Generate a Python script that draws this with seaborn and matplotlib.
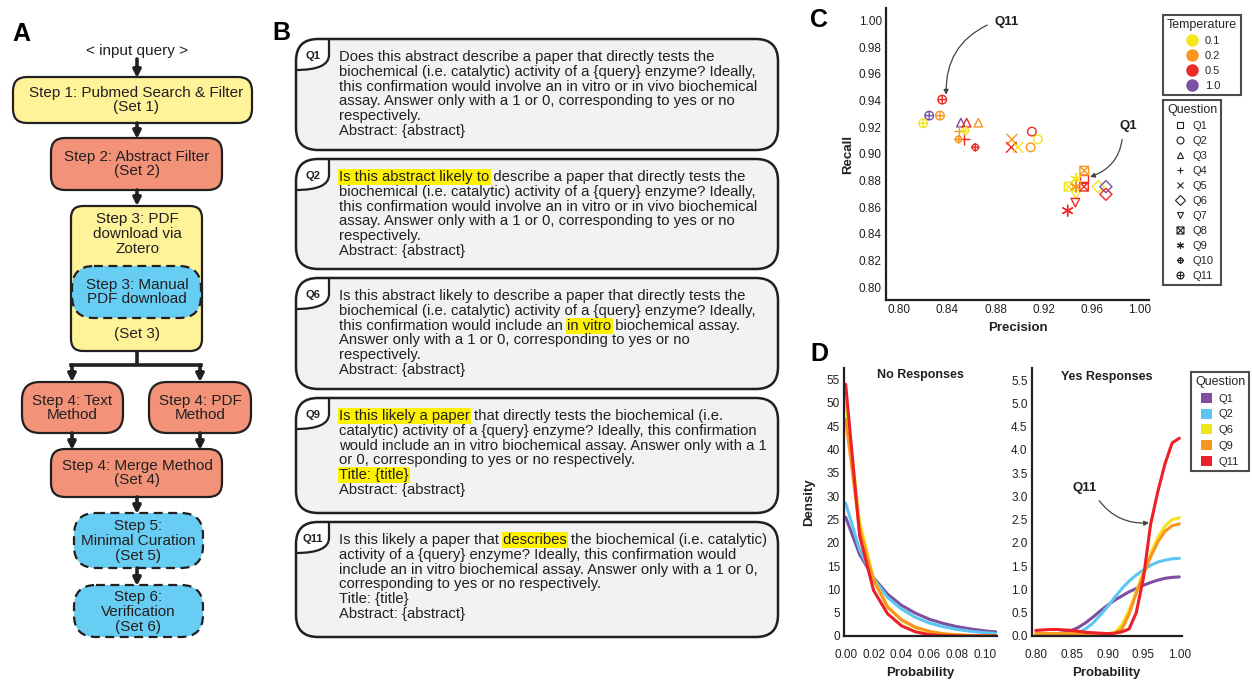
import matplotlib
matplotlib.use("Agg")
import matplotlib.pyplot as plt
from matplotlib.patches import FancyBboxPatch, Rectangle, PathPatch, Patch
from matplotlib.path import Path
from matplotlib.lines import Line2D
import seaborn as sns
import pandas as pd

# ---------------- data ----------------
# panel C: precision / recall of each prompt at each temperature
temperatures = ["0.1", "0.2", "0.5", "1.0"]
temperature_colors = ["#F4E61C", "#F8961E", "#EE2A26", "#7B51A2"]
questions = ["Q1", "Q2", "Q3", "Q4", "Q5", "Q6", "Q7", "Q8", "Q9", "Q10", "Q11"]

pr_question = ["Q1",
               "Q2", "Q2", "Q2",
               "Q3", "Q3", "Q3",
               "Q4", "Q4",
               "Q5", "Q5", "Q5",
               "Q6", "Q6", "Q6",
               "Q7", "Q7",
               "Q8", "Q8", "Q8",
               "Q9", "Q9", "Q9",
               "Q10", "Q10", "Q10",
               "Q11", "Q11", "Q11", "Q11"]
pr_temperature = ["0.5",
                  "0.5", "0.1", "0.2",
                  "1.0", "0.5", "0.2",
                  "0.2", "0.5",
                  "0.2", "0.5", "0.1",
                  "0.1", "1.0", "0.5",
                  "0.1", "0.5",
                  "0.2", "0.1", "0.5",
                  "0.5", "0.1", "0.2",
                  "0.2", "0.1", "0.5",
                  "0.5", "1.0", "0.2", "0.1"]
pr_precision = [0.9535,
                0.9102, 0.9152, 0.9091,
                0.8512, 0.8560, 0.8657,
                0.8499, 0.8540,
                0.8936, 0.8931, 0.8986,
                0.9654, 0.9717, 0.9717,
                0.9468, 0.9463,
                0.9537, 0.9407, 0.9535,
                0.9399, 0.9468, 0.9468,
                0.8493, 0.8551, 0.8632,
                0.8357, 0.8249, 0.8338, 0.8199]
pr_recall = [0.8813,
             0.9168, 0.9110, 0.9050,
             0.9235, 0.9235, 0.9235,
             0.9175, 0.9110,
             0.9110, 0.9050, 0.9050,
             0.8755, 0.8755, 0.8698,
             0.8693, 0.8635,
             0.8875, 0.8755, 0.8755,
             0.8575, 0.8813, 0.8755,
             0.9110, 0.9175, 0.9050,
             0.9408, 0.9288, 0.9288, 0.9230]

# panel D: density of predicted probabilities
density_questions = ["Q1", "Q2", "Q6", "Q9", "Q11"]
density_colors = ["#7E4E9F", "#5BC6F2", "#F2E41B", "#F8961E", "#EC2027"]

no_prob = [0.00, 0.01, 0.02, 0.03, 0.04, 0.05, 0.06, 0.07, 0.08, 0.09, 0.10, 0.11]
no_q1 = [25.5, 17.5, 12.5, 9.0, 6.6, 4.9, 3.6, 2.7, 2.0, 1.5, 1.1, 0.8]
no_q2 = [28.5, 18.5, 12.3, 8.3, 5.8, 4.0, 2.8, 2.0, 1.4, 1.0, 0.7, 0.5]
no_q6 = [50.5, 24.5, 12.2, 6.4, 3.4, 1.8, 0.9, 0.45, 0.2, 0.1, 0.05, 0.02]
no_q9 = [46.5, 23.0, 12.0, 6.2, 3.5, 1.9, 1.0, 0.5, 0.25, 0.12, 0.06, 0.03]
no_q11 = [54.0, 21.5, 9.8, 4.8, 2.2, 0.9, 0.3, 0.08, 0.02, 0.0, 0.0, 0.0]

yes_prob = [0.80, 0.81, 0.82, 0.83, 0.84, 0.85, 0.86, 0.87, 0.88, 0.89, 0.90,
            0.91, 0.92, 0.93, 0.94, 0.95, 0.96, 0.97, 0.98, 0.99, 1.00]
yes_q1 = [0.05, 0.05, 0.05, 0.05, 0.07, 0.12, 0.19, 0.29, 0.41, 0.54, 0.66,
          0.77, 0.86, 0.95, 1.02, 1.09, 1.15, 1.20, 1.24, 1.26, 1.27]
yes_q2 = [0.04, 0.04, 0.04, 0.04, 0.04, 0.04, 0.07, 0.16, 0.28, 0.45, 0.63,
          0.83, 1.02, 1.18, 1.31, 1.42, 1.52, 1.59, 1.63, 1.66, 1.67]
yes_q6 = [0.05, 0.05, 0.05, 0.05, 0.05, 0.05, 0.05, 0.05, 0.05, 0.05, 0.05,
          0.07, 0.24, 0.55, 0.95, 1.36, 1.76, 2.12, 2.36, 2.50, 2.54]
yes_q9 = [0.05, 0.05, 0.05, 0.05, 0.05, 0.05, 0.05, 0.05, 0.05, 0.05, 0.05,
          0.06, 0.15, 0.47, 0.92, 1.33, 1.70, 2.02, 2.25, 2.37, 2.41]
yes_q11 = [0.12, 0.13, 0.14, 0.14, 0.13, 0.12, 0.10, 0.08, 0.07, 0.06, 0.05,
           0.06, 0.09, 0.15, 0.50, 1.25, 2.40, 3.10, 3.70, 4.15, 4.25]

# panel B: prompt texts and highlighted parts
prompt_labels = ["Q1", "Q2", "Q6", "Q9", "Q11"]
prompt_lines = [
    ["Does this abstract describe a paper that directly tests the",
     "biochemical (i.e. catalytic) activity of a {query} enzyme? Ideally,",
     "this confirmation would involve an in vitro or in vivo biochemical",
     "assay. Answer only with a 1 or 0, corresponding to yes or no",
     "respectively.",
     "Abstract: {abstract}"],
    ["Is this abstract likely to describe a paper that directly tests the",
     "biochemical (i.e. catalytic) activity of a {query} enzyme? Ideally,",
     "this confirmation would involve an in vitro or in vivo biochemical",
     "assay. Answer only with a 1 or 0, corresponding to yes or no",
     "respectively.",
     "Abstract: {abstract}"],
    ["Is this abstract likely to describe a paper that directly tests the",
     "biochemical (i.e. catalytic) activity of a {query} enzyme? Ideally,",
     "this confirmation would include an in vitro biochemical assay.",
     "Answer only with a 1 or 0, corresponding to yes or no",
     "respectively.",
     "Abstract: {abstract}"],
    ["Is this likely a paper that directly tests the biochemical (i.e.",
     "catalytic) activity of a {query} enzyme? Ideally, this confirmation",
     "would include an in vitro biochemical assay. Answer only with a 1",
     "or 0, corresponding to yes or no respectively.",
     "Title: {title}",
     "Abstract: {abstract}"],
    ["Is this likely a paper that describes the biochemical (i.e. catalytic)",
     "activity of a {query} enzyme? Ideally, this confirmation would",
     "include an in vitro biochemical assay. Answer only with a 1 or 0,",
     "corresponding to yes or no respectively.",
     "Title: {title}",
     "Abstract: {abstract}"],
]
prompt_highlights = [
    [],
    [(0, "Is this abstract likely to")],
    [(2, "in vitro")],
    [(0, "Is this likely a paper"), (4, "Title: {title}")],
    [(0, "describes")],
]

# ---------------- style ----------------
sns.set_theme(style="white")
FONT = ["Liberation Sans", "DejaVu Sans"]
plt.rcParams["font.family"] = FONT
INK = "#231F20"
YELLOW_BOX = "#FFF399"
SALMON_BOX = "#F29379"
BLUE_BOX = "#68CDF2"
HILITE = "#FFF200"

fig = plt.figure(figsize=(12.52, 6.81), dpi=100)
renderer = fig.canvas.get_renderer()

# full-figure canvas in pixel units for panels A and B
canvas = fig.add_axes([0, 0, 1, 1])
canvas.set_xlim(0, 1252)
canvas.set_ylim(681, 0)
canvas.axis("off")

for letter, (lx, ly) in zip("ABCD", [(21, 34), (281, 33), (819, 20), (819, 354)]):
    canvas.text(lx, ly, letter, fontsize=18, fontweight="bold", color="black",
                ha="center", va="center")


# ---- panel A: pipeline flowchart ----
def flow_box(x0, y0, x1, y1, fc, dashed=False, r=14):
    canvas.add_patch(FancyBboxPatch(
        (x0, y0), x1 - x0, y1 - y0,
        boxstyle=f"round,pad=0,rounding_size={r}",
        fc=fc, ec=INK, lw=1.6, ls=(0, (4, 2.5)) if dashed else "-", zorder=2))


def flow_arrow(x, y0, y1):
    canvas.annotate("", xy=(x, y1), xytext=(x, y0),
                    arrowprops=dict(arrowstyle="-|>", color=INK, lw=2.6,
                                    mutation_scale=11, shrinkA=0, shrinkB=0),
                    zorder=3)


def flow_text(x, y, s):
    canvas.text(x, y, s, fontsize=11, color=INK, ha="center", va="center",
                linespacing=1.05, zorder=4)


flow_text(137, 51, "< input query >")
flow_arrow(137, 59, 78)
flow_box(13, 77, 252, 123, YELLOW_BOX, r=14)
flow_text(136, 100, "Step 1: Pubmed Search & Filter\n(Set 1)")
flow_arrow(137, 123, 139)
flow_box(51, 138, 222, 190, SALMON_BOX, r=14)
flow_text(137, 164, "Step 2: Abstract Filter\n(Set 2)")
flow_arrow(137, 190, 206)
flow_box(71, 206, 202, 351, YELLOW_BOX, r=12)
flow_text(137, 234, "Step 3: PDF\ndownload via\nZotero")
flow_box(72, 266, 201, 318, BLUE_BOX, dashed=True, r=22)
flow_text(137, 292, "Step 3: Manual\nPDF download")
flow_text(137, 334, "(Set 3)")
canvas.plot([137, 137], [351, 365], color=INK, lw=2.6, zorder=3, solid_capstyle="butt")
canvas.plot([71, 201], [365, 365], color=INK, lw=2.6, zorder=3, solid_capstyle="projecting")
flow_arrow(72, 365, 382)
flow_arrow(200, 365, 382)
flow_box(22, 382, 123, 433, SALMON_BOX, r=18)
flow_text(72, 408, "Step 4: Text\nMethod")
flow_box(149, 382, 251, 433, SALMON_BOX, r=18)
flow_text(200, 408, "Step 4: PDF\nMethod")
flow_arrow(72, 433, 450)
flow_arrow(200, 433, 450)
flow_box(51, 449, 222, 497, SALMON_BOX, r=14)
flow_text(137, 473, "Step 4: Merge Method\n(Set 4)")
flow_arrow(137, 497, 514)
flow_box(74, 513, 203, 568, BLUE_BOX, dashed=True, r=22)
flow_text(138, 541, "Step 5:\nMinimal Curation\n(Set 5)")
flow_arrow(137, 568, 586)
flow_box(74, 585, 203, 637, BLUE_BOX, dashed=True, r=22)
flow_text(138, 612, "Step 6:\nVerification\n(Set 6)")


# ---- panel B: prompt boxes ----
PROMPT_SIZE = 10.7
LINE_PITCH = 14.8


def text_width(s):
    t = canvas.text(0, 0, s, fontsize=PROMPT_SIZE)
    w = t.get_window_extent(renderer=renderer).width
    t.remove()
    return w


box_tops = [39, 159, 278, 398, 522]
box_bottoms = [150, 269, 389, 513, 637]
bx0, bx1, tab_x = 296, 778, 329
text_x = 339
for label, lines, hls, top, bottom in zip(prompt_labels, prompt_lines, prompt_highlights,
                                          box_tops, box_bottoms):
    canvas.add_patch(FancyBboxPatch((bx0, top), bx1 - bx0, bottom - top,
                                    boxstyle="round,pad=0,rounding_size=22",
                                    fc="#F1F2F3", ec="none", zorder=1))
    tab = Path([(bx0, top), (tab_x, top), (tab_x, top + 16), (tab_x, top + 31),
                (bx0, top + 31), (bx0, top)],
               [Path.MOVETO, Path.LINETO, Path.LINETO, Path.CURVE3, Path.CURVE3,
                Path.CLOSEPOLY])
    canvas.add_patch(PathPatch(tab, fc="white", ec="none", zorder=1.5))
    edge = Path([(tab_x, top), (tab_x, top + 16), (tab_x, top + 31), (bx0, top + 31)],
                [Path.MOVETO, Path.LINETO, Path.CURVE3, Path.CURVE3])
    canvas.add_patch(PathPatch(edge, fc="none", ec=INK, lw=1.6, zorder=4))
    canvas.add_patch(FancyBboxPatch((bx0, top), bx1 - bx0, bottom - top,
                                    boxstyle="round,pad=0,rounding_size=22",
                                    fc="none", ec=INK, lw=1.8, zorder=4))
    canvas.text(313, top + 17, label, fontsize=8, fontweight="bold", color=INK,
                ha="center", va="center", zorder=5)
    first_y = top + 18
    for i, line in enumerate(lines):
        canvas.text(text_x, first_y + i * LINE_PITCH, line, fontsize=PROMPT_SIZE,
                    color=INK, ha="left", va="center", zorder=5)
    for li, part in hls:
        line = lines[li]
        k = line.find(part)
        right = text_x + text_width(line[:k + len(part)])
        left = right - text_width(part)
        yc = first_y + li * LINE_PITCH
        canvas.add_patch(Rectangle((left - 1.5, yc - 8), right - left + 3, 16,
                                   fc=HILITE, ec="none", zorder=3))


# ---- panel C: precision vs recall scatter ----
def compound(*parts):
    return Path.make_compound_path(*parts)


square = Path([(-1, -1), (1, -1), (1, 1), (-1, 1), (-1, -1)],
              [Path.MOVETO, Path.LINETO, Path.LINETO, Path.LINETO, Path.CLOSEPOLY])
xcross = Path([(-1, -1), (1, 1), (-1, 1), (1, -1)],
              [Path.MOVETO, Path.LINETO, Path.MOVETO, Path.LINETO])
long_plus = Path([(-1.35, 0), (1.35, 0), (0, -1.35), (0, 1.35)],
                 [Path.MOVETO, Path.LINETO, Path.MOVETO, Path.LINETO])
short_plus = Path([(-1, 0), (1, 0), (0, -1), (0, 1)],
                  [Path.MOVETO, Path.LINETO, Path.MOVETO, Path.LINETO])
question_markers = {
    "Q1": "s", "Q2": "o", "Q3": "^", "Q4": "+", "Q5": "x", "Q6": "D", "Q7": "v",
    "Q8": compound(square, xcross), "Q9": (6, 2, 0),
    "Q10": compound(Path.unit_circle(), long_plus),
    "Q11": compound(Path.unit_circle(), short_plus),
}
line_markers = {"Q4", "Q5", "Q9"}
temp_palette = dict(zip(temperatures, temperature_colors))

pr = pd.DataFrame({"question": pr_question, "temperature": pr_temperature,
                   "precision": pr_precision, "recall": pr_recall})

ax_c = fig.add_axes([886 / 1252, 1 - 300 / 681, 263 / 1252, 292 / 681])
for q in questions:
    sub = pr[pr["question"] == q]
    if sub.empty:
        continue
    size = 60 if q in line_markers else 38
    sns.scatterplot(data=sub, x="precision", y="recall", hue="temperature",
                    palette=temp_palette, marker=question_markers[q], s=size,
                    linewidth=1.0, legend=False, ax=ax_c)
    coll = ax_c.collections[-1]
    if q not in line_markers:
        fc = coll.get_facecolors()
        coll.set_edgecolors(fc)
        coll.set_facecolors("none")

ax_c.set_xlim(0.789, 1.0075)
ax_c.set_ylim(0.7905, 1.0095)
ax_c.set_xticks([0.80, 0.84, 0.88, 0.92, 0.96, 1.00])
ax_c.set_yticks([0.80, 0.82, 0.84, 0.86, 0.88, 0.90, 0.92, 0.94, 0.96, 0.98, 1.00])
ax_c.set_xticklabels([f"{v:.2f}" for v in ax_c.get_xticks()])
ax_c.set_yticklabels([f"{v:.2f}" for v in ax_c.get_yticks()])
ax_c.set_xlabel("Precision", fontsize=9.5, fontweight="bold", color=INK)
ax_c.set_ylabel("Recall", fontsize=9.5, fontweight="bold", color=INK)
ax_c.xaxis.set_label_coords(0.5, -0.075)
ax_c.yaxis.set_label_coords(-0.12, 0.5)

ax_c.annotate("Q11", xy=(0.839, 0.9445), xytext=(0.879, 0.999),
              fontsize=9.5, fontweight="bold", color=INK, ha="left", va="center",
              arrowprops=dict(arrowstyle="-|>", color="#444444", lw=0.9,
                              connectionstyle="arc3,rad=0.35", relpos=(0, 0.5),
                              shrinkA=3, shrinkB=0, mutation_scale=7))
ax_c.annotate("Q1", xy=(0.9585, 0.8828), xytext=(0.990, 0.921),
              fontsize=9.5, fontweight="bold", color=INK, ha="center", va="center",
              arrowprops=dict(arrowstyle="-|>", color="#444444", lw=0.9,
                              connectionstyle="arc3,rad=-0.35", relpos=(0.2, 0),
                              shrinkA=3, shrinkB=0, mutation_scale=7))

temp_handles = [Line2D([], [], ls="none", marker="o", ms=8, mfc=c, mec=c)
                for c in temperature_colors]
q_handles = [Line2D([], [], ls="none", marker=question_markers[q], ms=5,
                    mfc="none", mec=INK, mew=0.8) for q in questions]
legend_kw = dict(loc="upper left", bbox_transform=fig.transFigure, frameon=True,
                 fancybox=False, edgecolor=INK, fontsize=8, title_fontsize=9,
                 borderpad=0.35, labelspacing=0.45, handletextpad=0.35,
                 handlelength=1.6, borderaxespad=0)
leg_t = fig.legend(temp_handles, temperatures, title="Temperature",
                   bbox_to_anchor=(1163 / 1252, 1 - 15 / 681), **legend_kw)
leg_q = fig.legend(q_handles, questions, title="Question",
                   bbox_to_anchor=(1163 / 1252, 1 - 100 / 681), **legend_kw)
for leg in (leg_t, leg_q):
    leg.get_frame().set_linewidth(1.5)

# ---- panel D: density curves ----
density_palette = dict(zip(density_questions, density_colors))
no_values = [no_q1, no_q2, no_q6, no_q9, no_q11]
yes_values = [yes_q1, yes_q2, yes_q6, yes_q9, yes_q11]
no_df = pd.concat([pd.DataFrame({"prob": no_prob, "density": v, "question": q})
                   for q, v in zip(density_questions, no_values)])
yes_df = pd.concat([pd.DataFrame({"prob": yes_prob, "density": v, "question": q})
                    for q, v in zip(density_questions, yes_values)])

ax_no = fig.add_axes([844 / 1252, 1 - 636 / 681, 153 / 1252, 268 / 681])
ax_yes = fig.add_axes([1031.7 / 1252, 1 - 636 / 681, 150 / 1252, 268 / 681])
sns.lineplot(data=no_df, x="prob", y="density", hue="question",
             hue_order=density_questions, palette=density_palette, lw=2.2,
             legend=False, ax=ax_no)
sns.lineplot(data=yes_df, x="prob", y="density", hue="question",
             hue_order=density_questions, palette=density_palette, lw=2.2,
             legend=False, ax=ax_yes)

ax_no.set_xlim(-0.0012, 0.1086)
ax_no.set_ylim(0, 57.5)
ax_no.set_xticks([0.00, 0.02, 0.04, 0.06, 0.08, 0.10])
ax_no.set_xticklabels([f"{v:.2f}" for v in ax_no.get_xticks()])
ax_no.set_yticks(range(0, 56, 5))
ax_no.set_ylabel("Density", fontsize=9.5, fontweight="bold", color=INK)
ax_no.yaxis.set_label_coords(-0.19, 0.5)
ax_no.text(0.5, 0.975, "No Responses", transform=ax_no.transAxes, fontsize=9,
           fontweight="bold", color=INK, ha="center", va="center")

ax_yes.set_xlim(0.7944, 1.0033)
ax_yes.set_ylim(0, 5.76)
ax_yes.set_xticks([0.80, 0.85, 0.90, 0.95, 1.00])
ax_yes.set_xticklabels([f"{v:.2f}" for v in ax_yes.get_xticks()])
ax_yes.set_yticks([i * 0.5 for i in range(12)])
ax_yes.set_yticklabels([f"{i * 0.5:.1f}" for i in range(12)])
ax_yes.set_ylabel("")
ax_yes.text(0.5, 0.968, "Yes Responses", transform=ax_yes.transAxes, fontsize=9,
            fontweight="bold", color=INK, ha="center", va="center")
ax_yes.annotate("Q11", xy=(0.9578, 2.43), xytext=(0.8687, 3.18),
                fontsize=9.5, fontweight="bold", color=INK, ha="center", va="center",
                arrowprops=dict(arrowstyle="-|>", color="#444444", lw=0.9,
                                connectionstyle="arc3,rad=0.3", relpos=(0.9, 0),
                                shrinkA=3, shrinkB=0, mutation_scale=7))

for ax in (ax_no, ax_yes):
    ax.set_xlabel("Probability", fontsize=9.5, fontweight="bold", color=INK)
    ax.xaxis.set_label_coords(0.5, -0.115)

for ax in (ax_c, ax_no, ax_yes):
    sns.despine(ax=ax)
    for side in ("left", "bottom"):
        ax.spines[side].set_color(INK)
        ax.spines[side].set_linewidth(1.6)
    ax.tick_params(length=0, pad=3, labelsize=8.5, colors=INK)
    ax.set_facecolor("none")

# the density panels leave more room under the x axis
for ax in (ax_no, ax_yes):
    ax.tick_params(axis="x", pad=9)

d_handles = [Patch(fc=c, ec="none") for c in density_colors]
leg_d = fig.legend(d_handles, density_questions, title="Question", loc="upper left",
                   bbox_to_anchor=(1191 / 1252, 1 - 372 / 681),
                   bbox_transform=fig.transFigure, frameon=True, fancybox=False,
                   edgecolor=INK, fontsize=8, title_fontsize=9, borderpad=0.35,
                   labelspacing=0.45, handletextpad=0.6, handlelength=1.0,
                   handleheight=1.0, borderaxespad=0)
leg_d.get_frame().set_linewidth(1.5)

fig.savefig("out.png", dpi=100)
